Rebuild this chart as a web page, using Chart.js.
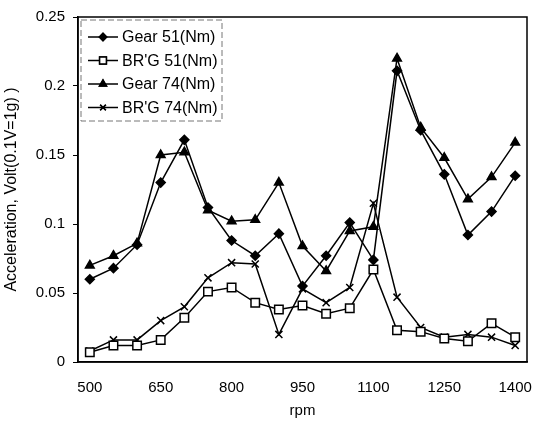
<!DOCTYPE html>
<html>
<head>
<meta charset="utf-8">
<script src="https://cdn.jsdelivr.net/npm/chart.js"></script>
<style>
  html, body { margin: 0; padding: 0; background: #fff; }
  #wrap { width: 544px; height: 424px; }
</style>
</head>
<body>
<div id="wrap"><canvas id="rpmChart" width="544" height="424"></canvas></div>
<script>
// rpm categories
const rpm = ["500", "550", "600", "650", "700", "750", "800", "850", "900", "950",
  "1000", "1050", "1100", "1150", "1200", "1250", "1300", "1350", "1400"];

// series values
const gear51 = [0.060, 0.068, 0.085, 0.130, 0.161, 0.112, 0.088, 0.077, 0.093, 0.055,
  0.077, 0.101, 0.074, 0.211, 0.168, 0.136, 0.092, 0.109, 0.135];
const brg51 = [0.007, 0.012, 0.012, 0.016, 0.032, 0.051, 0.054, 0.043, 0.038, 0.041,
  0.035, 0.039, 0.067, 0.023, 0.022, 0.017, 0.015, 0.028, 0.018];
const gear74 = [0.070, 0.077, 0.086, 0.150, 0.152, 0.110, 0.102, 0.103, 0.130, 0.084,
  0.066, 0.095, 0.098, 0.220, 0.170, 0.148, 0.118, 0.134, 0.159];
const brg74 = [0.008, 0.016, 0.016, 0.030, 0.040, 0.061, 0.072, 0.071, 0.020, 0.053,
  0.043, 0.054, 0.115, 0.047, 0.025, 0.018, 0.020, 0.018, 0.012];

// tick labels
const yTicks = [0, 0.05, 0.1, 0.15, 0.2, 0.25];
const yTickLabels = ["0", "0.05", "0.1", "0.15", "0.2", "0.25"];
const xTickLabels = ["500", "650", "800", "950", "1100", "1250", "1400"];

const FONT = "'Liberation Sans', Arial, sans-serif";

function series(label, data, style, radius, fill) {
  return {
    label: label,
    data: data,
    borderColor: "#000",
    borderWidth: 1.5,
    pointStyle: style,
    pointRadius: radius,
    pointBorderWidth: 1.5,
    pointBackgroundColor: fill,
    pointBorderColor: "#000",
    tension: 0,
    fill: false,
  };
}

// frame round the plot + legend box inside it
const framePlugin = {
  id: "frame",
  afterDraw(chart) {
    const { ctx, chartArea: a } = chart;
    ctx.save();
    ctx.strokeStyle = "#000";
    ctx.lineWidth = 1.5;
    ctx.strokeRect(a.left, a.top, a.right - a.left, a.bottom - a.top);

    // legend
    const lx = a.left + 3, ly = a.top + 3, lw = 141, lh = 101;
    ctx.lineWidth = 1;
    ctx.strokeStyle = "#777";
    ctx.setLineDash([6, 3]);
    ctx.strokeRect(lx, ly, lw, lh);
    ctx.setLineDash([]);
    ctx.font = "16px " + FONT;
    ctx.textBaseline = "middle";
    ctx.fillStyle = "#000";
    chart.data.datasets.forEach((ds, i) => {
      const y = ly + 17 + i * 23.5;
      ctx.strokeStyle = "#000";
      ctx.lineWidth = 1.5;
      ctx.beginPath();
      ctx.moveTo(lx + 7, y);
      ctx.lineTo(lx + 37, y);
      ctx.stroke();
      Chart.helpers.drawPoint(ctx, {
        pointStyle: ds.pointStyle,
        radius: ds.pointRadius * 0.8,
        borderWidth: 1.2,
        rotation: 0,
      }, lx + 22, y);
      ctx.fillStyle = ds.pointBackgroundColor;
      ctx.fill();
      ctx.stroke();
      ctx.fillStyle = "#000";
      ctx.fillText(ds.label, lx + 41, y + 1);
    });
    ctx.restore();
  },
};

new Chart(document.getElementById("rpmChart").getContext("2d"), {
  type: "line",
  data: {
    labels: rpm,
    datasets: [
      series("Gear 51(Nm)", gear51, "rectRot", 4.5, "#000"),
      series("BR'G 51(Nm)", brg51, "rect", 6, "#fff"),
      series("Gear 74(Nm)", gear74, "triangle", 5, "#000"),
      series("BR'G 74(Nm)", brg74, "crossRot", 5, "#000"),
    ],
  },
  options: {
    responsive: false,
    animation: false,
    layout: { padding: { left: 0, top: 12, right: 17, bottom: 0 } },
    plugins: {
      legend: { display: false },
      tooltip: { enabled: false },
    },
    scales: {
      x: {
        offset: true,
        grid: { display: false },
        border: { display: true, color: "#000", width: 1.5 },
        ticks: {
          autoSkip: false,
          maxRotation: 0,
          padding: 9,
          color: "#000",
          font: { family: FONT, size: 15 },
          callback: function (value, index) {
            const lab = rpm[index];
            return xTickLabels.includes(lab) ? lab : "";
          },
        },
        title: {
          display: true,
          text: "rpm",
          color: "#000",
          font: { family: FONT, size: 15 },
          padding: { top: 4, bottom: 4 },
        },
        afterFit(scale) { scale.height = 62; },
      },
      y: {
        min: 0,
        max: 0.25,
        grid: {
          display: true,
          drawOnChartArea: false,
          drawTicks: true,
          tickLength: 5,
          color: "#000",
          lineWidth: 1,
        },
        border: { display: true, color: "#000", width: 1.5 },
        afterBuildTicks(scale) {
          scale.ticks = yTicks.map((v) => ({ value: v }));
        },
        ticks: {
          padding: 8,
          color: "#000",
          font: { family: FONT, size: 15 },
          callback: function (value) {
            const i = yTicks.findIndex((t) => Math.abs(t - value) < 1e-9);
            return i >= 0 ? yTickLabels[i] : "";
          },
        },
        title: {
          display: true,
          text: "Acceleration, Volt(0.1V=1g) )",
          color: "#000",
          font: { family: FONT, size: 16 },
          padding: { top: 2, bottom: 2 },
        },
        afterFit(scale) { scale.width = 78; },
      },
    },
  },
  plugins: [framePlugin],
});
</script>
</body>
</html>
